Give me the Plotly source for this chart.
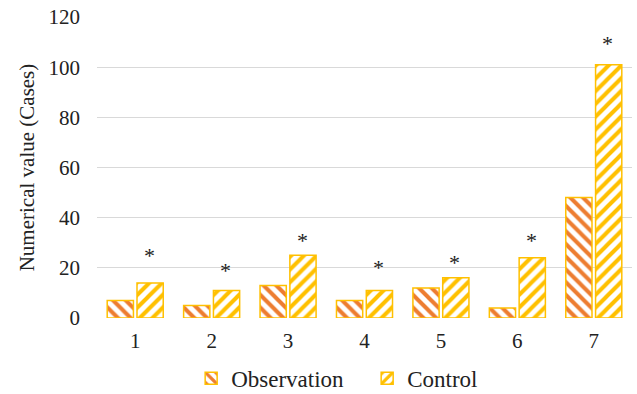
import plotly.graph_objects as go

categories = ["1", "2", "3", "4", "5", "6", "7"]
observation = [7, 5, 13, 7, 12, 4, 48]
control = [14, 11, 25, 11, 16, 24, 101]
star_y = [25, 19, 31, 20, 22, 31, 109.5]
y_ticks = [0, 20, 40, 60, 80, 100, 120]

ORANGE = "#ED7D31"
GOLD = "#FFC000"
FONT = "Liberation Serif"

fig = go.Figure()
fig.add_trace(go.Bar(
    name="Observation", x=categories, y=observation,
    marker=dict(color="white", line=dict(color=GOLD, width=1.5),
                pattern=dict(shape="\\", fgcolor=ORANGE, bgcolor="white", fgopacity=1,
                             size=9, solidity=0.45, fillmode="overlay")),
))
fig.add_trace(go.Bar(
    name="Control", x=categories, y=control,
    marker=dict(color="white", line=dict(color=GOLD, width=1.5),
                pattern=dict(shape="/", fgcolor=GOLD, bgcolor="white", fgopacity=1,
                             size=9, solidity=0.45, fillmode="overlay")),
))

for i, c in enumerate(categories):
    fig.add_annotation(x=i, y=star_y[i], text="*", showarrow=False,
                       xshift=14, font=dict(family=FONT, size=22, color="#222"))

fig.update_layout(
    width=637, height=394,
    margin=dict(l=97, r=5, t=17, b=76, autoexpand=False),
    paper_bgcolor="white", plot_bgcolor="white",
    barmode="group", bargap=0.22, bargroupgap=0.12,
    font=dict(family=FONT, size=21, color="#222"),
    legend=dict(orientation="h", x=0.176, xanchor="left", y=-0.2, yanchor="middle",
                font=dict(family=FONT, size=23), entrywidth=131, entrywidthmode="pixels"),
    showlegend=True,
)
fig.update_yaxes(range=[0, 120], tickvals=y_ticks, showgrid=True, gridcolor="#D9D9D9",
                 gridwidth=1, zeroline=False, showline=False, ticks="",
                 ticklabeloverflow="allow", ticklabelstandoff=16,
                 title=dict(text="Numerical value (Cases)", font=dict(family=FONT, size=21), standoff=8))
fig.update_xaxes(type="category", showgrid=False, showline=False, ticks="", zeroline=False,
                 ticklabelstandoff=8)

fig.write_html("out.html", config={"displayModeBar": False},
               post_script="document.body.style.margin='0';document.body.style.overflow='hidden';")
